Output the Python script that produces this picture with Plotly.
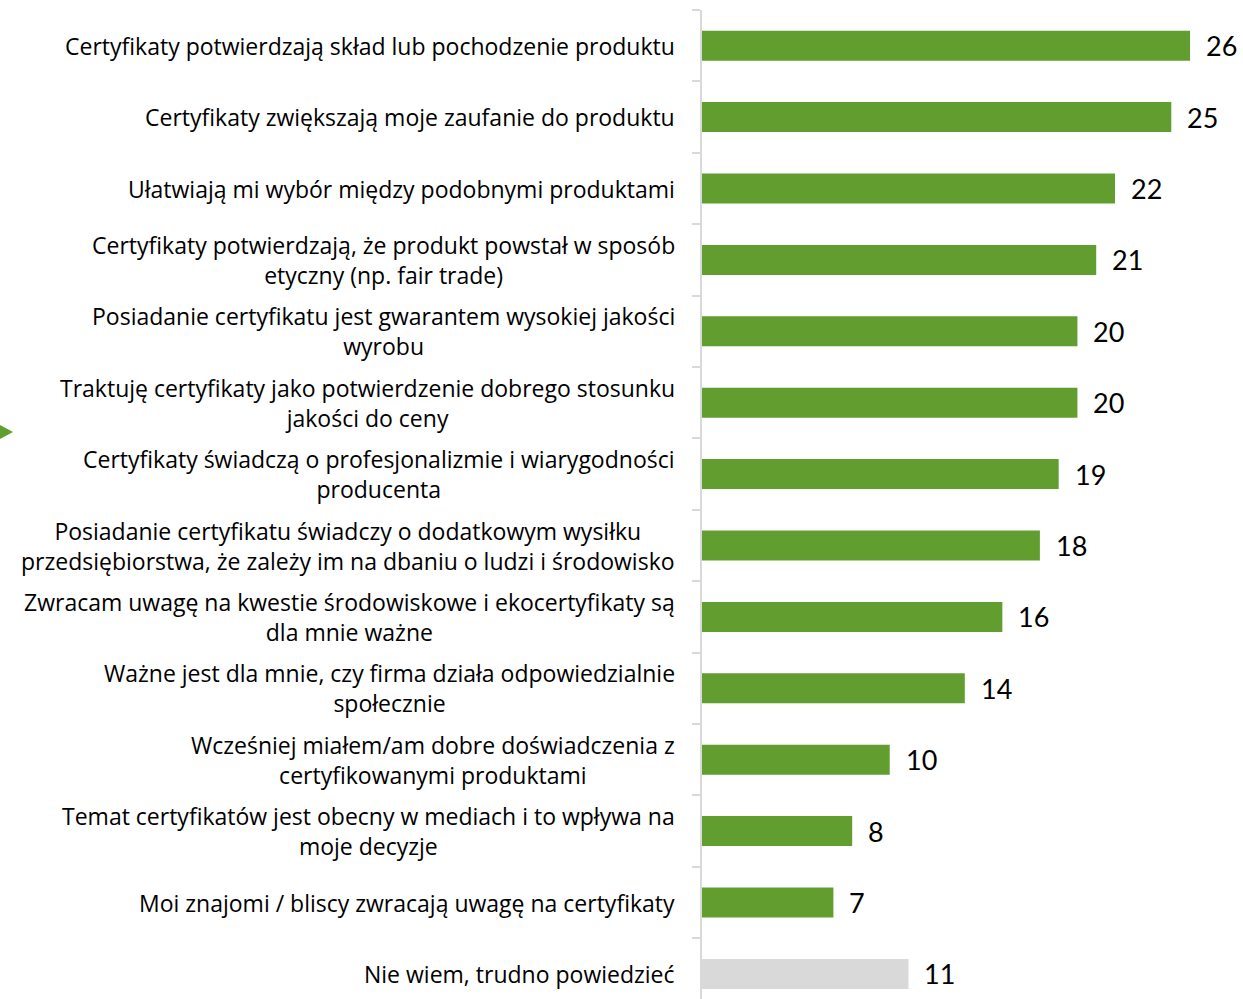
import plotly.graph_objects as go

# Survey answers (percent of respondents)
categories = [
    "Certyfikaty potwierdzają skład lub pochodzenie produktu",
    "Certyfikaty zwiększają moje zaufanie do produktu",
    "Ułatwiają mi wybór między podobnymi produktami",
    "Certyfikaty potwierdzają, że produkt powstał w sposób<br>etyczny (np. fair trade)",
    "Posiadanie certyfikatu jest gwarantem wysokiej jakości<br>wyrobu",
    "Traktuję certyfikaty jako potwierdzenie dobrego stosunku<br>jakości do ceny",
    "Certyfikaty świadczą o profesjonalizmie i wiarygodności<br>producenta",
    "Posiadanie certyfikatu świadczy o dodatkowym wysiłku<br>przedsiębiorstwa, że zależy im na dbaniu o ludzi i środowisko",
    "Zwracam uwagę na kwestie środowiskowe i ekocertyfikaty są<br>dla mnie ważne",
    "Ważne jest dla mnie, czy firma działa odpowiedzialnie<br>społecznie",
    "Wcześniej miałem/am dobre doświadczenia z<br>certyfikowanymi produktami",
    "Temat certyfikatów jest obecny w mediach i to wpływa na<br>moje decyzje",
    "Moi znajomi / bliscy zwracają uwagę na certyfikaty",
    "Nie wiem, trudno powiedzieć",
]
values = [26, 25, 22, 21, 20, 20, 19, 18, 16, 14, 10, 8, 7, 11]

GREEN = "#629d30"
GREY = "#d9d9d9"
colors = [GREEN] * (len(values) - 1) + [GREY]

W, H = 1243, 999
ML, MR, MT, MB = 702, 0, 10, 0

fig = go.Figure(
    go.Bar(
        x=values,
        y=categories,
        orientation="h",
        marker=dict(color=colors, line=dict(width=0)),
        width=0.42,
        hoverinfo="skip",
    )
)

annotations = []
for cat, val in zip(categories, values):
    # category label, lines centred within the block, block right-aligned
    annotations.append(dict(
        x=0, y=cat, xref="x", yref="y",
        text=cat, showarrow=False,
        xanchor="right", yanchor="middle", align="center",
        xshift=-25,
        font=dict(family="Open Sans", size=23, color="#000000"),
    ))
    # value label at the end of each bar
    annotations.append(dict(
        x=val, y=cat, xref="x", yref="y",
        text=str(val), showarrow=False,
        xanchor="left", yanchor="middle",
        xshift=14,
        font=dict(family="Lato", size=27, color="#000000"),
    ))

# small pointer triangle at the left edge
pw = W - ML - MR
ph = H - MT - MB
def px_x(p):
    return (p - ML) / pw
def px_y(p):
    return 1 - (p - MT) / ph

tri = "M {x0},{y0} L {x1},{ym} L {x0},{y1} Z".format(
    x0=px_x(0), x1=px_x(13), y0=px_y(425), y1=px_y(439), ym=px_y(432)
)

fig.update_layout(
    width=W, height=H,
    margin=dict(l=ML, r=MR, t=MT, b=MB, pad=0),
    paper_bgcolor="white", plot_bgcolor="white",
    showlegend=False,
    annotations=annotations,
    shapes=[dict(type="path", path=tri, xref="paper", yref="paper",
                 fillcolor=GREEN, line=dict(width=0))],
    xaxis=dict(range=[0, 28.82], visible=False, fixedrange=True),
    yaxis=dict(
        type="category",
        categoryorder="array", categoryarray=categories,
        range=[-0.5 + ph / 71.4, -0.5],
        showticklabels=False,
        showline=True, linecolor=GREY, linewidth=2,
        ticks="outside", tickson="boundaries", ticklen=8,
        tickcolor=GREY, tickwidth=2,
        showgrid=False, zeroline=False, fixedrange=True,
    ),
)

fig.write_html("out.html")
